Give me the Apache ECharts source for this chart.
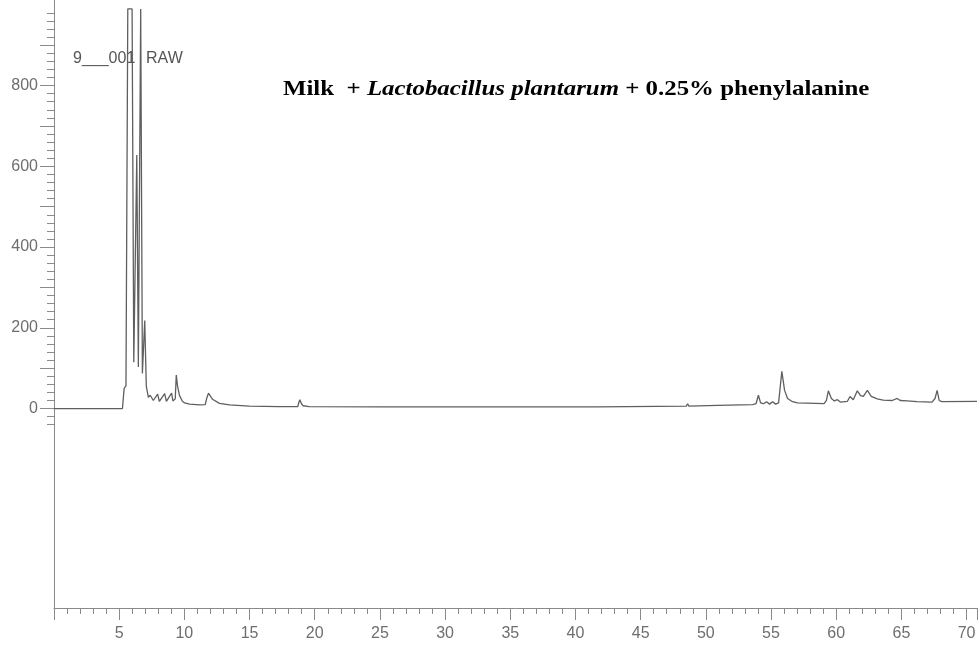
<!DOCTYPE html>
<html>
<head>
<meta charset="utf-8">
<script src="https://cdn.jsdelivr.net/npm/echarts@6/dist/echarts.min.js"></script>
<style>
  html, body { margin: 0; padding: 0; background: #fff; }
  #chart { width: 980px; height: 645px; }
</style>
</head>
<body>
<div id="chart"></div>
<script>
// Retention time (min) and detector response of the chromatogram trace
const retentionTime = [
  0, 5.25, 5.33, 5.38, 5.44, 5.52, 5.60, 5.66, 5.99, 6.12, 6.35, 6.47, 6.65, 6.78,
  6.96, 7.08, 7.24, 7.38, 7.49, 7.62, 7.76, 7.95, 8.08, 8.22, 8.49, 8.62, 8.76, 9.02,
  9.12, 9.30, 9.38, 9.48, 9.63, 9.85, 10.02, 10.40, 11.16, 11.60, 11.72, 11.85, 12.00,
  12.16, 12.69, 13.46, 14.98, 17.28, 18.70, 18.78, 18.86, 18.98, 19.11, 19.57, 25, 35,
  41.5, 41.6, 41.7, 48.5, 48.6, 48.7, 50.9, 53.6, 53.85, 54.03, 54.2, 54.43, 54.66,
  54.89, 55.12, 55.35, 55.58, 55.83, 56.04, 56.27, 56.65, 57.03, 59.07, 59.25, 59.40,
  59.63, 59.86, 60.09, 60.32, 60.86, 61.06, 61.31, 61.62, 61.87, 62.08, 62.39, 62.69,
  63.15, 63.61, 64.30, 64.68, 64.91, 65.44, 66.20, 67.35, 67.58, 67.74, 67.90, 68.10, 70.8
];
const intensity = [
  0, 0, 2, 50, 54, 56, 60, 990, 990, 115, 628, 103, 990, 87,
  218, 55, 28, 33, 34, 20, 18, 36, 18, 17, 37, 18, 17, 38,
  19, 24, 83, 55, 32, 18, 14, 11, 9, 10, 26, 38, 31,
  23, 13, 9, 6, 5, 5, 15, 22, 12, 7, 5, 4, 4,
  4, 8, 4, 6, 12, 6, 8, 10, 12, 33, 14, 12, 17,
  11, 17, 11, 14, 92, 45, 25, 17, 14, 12, 20, 44,
  25, 19, 22, 16, 18, 30, 22, 44, 32, 30, 45, 30,
  24, 21, 20, 25, 20, 19, 17, 16, 25, 45, 20, 17, 18
];

// Axis tick labels
const timeTickLabels = [5, 10, 15, 20, 25, 30, 35, 40, 45, 50, 55, 60, 65, 70];
const responseTickLabels = [0, 200, 400, 600, 800];

// Visible value ranges
const X_MIN = 0, X_MAX = 70.8;
const Y_MIN = -494, Y_MAX = 1012;
const RULER_MIN = -40, RULER_MAX = 980;   // extent of the fine tick ruler on the y axis
const MAJOR_MIN = 0, MAJOR_MAX = 900;     // extent of the long ticks and labels

// Layout
const PLOT_LEFT = 54, PLOT_TOP = 0, PLOT_HEIGHT = 608;
const pxPerUnit = PLOT_HEIGHT / (Y_MAX - Y_MIN);
const topOf = v => PLOT_TOP + (Y_MAX - v) * pxPerUnit;

const AXIS_COLOR = '#8a8a8a';
const LABEL_COLOR = '#6e6e6e';
const TRACE_COLOR = '#5f5f5f';

const chart = echarts.init(document.getElementById('chart'), null, { renderer: 'canvas' });

const hiddenX = idx => ({
  type: 'value', gridIndex: idx, min: X_MIN, max: X_MAX, show: false
});

chart.setOption({
  animation: false,
  backgroundColor: '#ffffff',
  grid: [
    { left: PLOT_LEFT, right: 0, top: PLOT_TOP, height: PLOT_HEIGHT },
    { left: PLOT_LEFT, right: 0, top: topOf(RULER_MAX), height: (RULER_MAX - RULER_MIN) * pxPerUnit },
    { left: PLOT_LEFT, right: 0, top: topOf(MAJOR_MAX), height: (MAJOR_MAX - MAJOR_MIN) * pxPerUnit }
  ],
  xAxis: [
    {
      type: 'value', gridIndex: 0, min: X_MIN, max: X_MAX, interval: 5,
      axisLine: { show: true, onZero: false, lineStyle: { color: AXIS_COLOR, width: 1 } },
      axisTick: { show: true, inside: false, length: 12, lineStyle: { color: AXIS_COLOR, width: 1 } },
      minorTick: { show: true, splitNumber: 5, length: 6, lineStyle: { color: AXIS_COLOR, width: 1 } },
      splitLine: { show: false },
      axisLabel: {
        show: true, margin: 18, color: LABEL_COLOR, fontFamily: 'Liberation Sans, Arial, sans-serif',
        fontSize: 16, showMinLabel: true, showMaxLabel: true,
        formatter: v => timeTickLabels.includes(v) ? String(v) : ''
      }
    },
    hiddenX(1),
    hiddenX(2)
  ],
  yAxis: [
    {
      type: 'value', gridIndex: 0, min: Y_MIN, max: Y_MAX,
      axisLine: { show: true, onZero: false, lineStyle: { color: AXIS_COLOR, width: 1 } },
      axisTick: { show: false }, axisLabel: { show: false }, splitLine: { show: false }
    },
    {
      type: 'value', gridIndex: 1, min: RULER_MIN, max: RULER_MAX, interval: 20,
      axisLine: { show: false },
      axisTick: { show: true, inside: false, length: 7, lineStyle: { color: AXIS_COLOR, width: 1 } },
      axisLabel: { show: false }, splitLine: { show: false }
    },
    {
      type: 'value', gridIndex: 2, min: MAJOR_MIN, max: MAJOR_MAX, interval: 100,
      axisLine: { show: false },
      axisTick: { show: true, inside: false, length: 14, lineStyle: { color: AXIS_COLOR, width: 1 } },
      axisLabel: {
        show: true, margin: 16, color: LABEL_COLOR, fontFamily: 'Liberation Sans, Arial, sans-serif',
        fontSize: 16,
        formatter: v => responseTickLabels.includes(v) ? String(v) : ''
      },
      splitLine: { show: false }
    }
  ],
  series: [
    {
      type: 'line', xAxisIndex: 0, yAxisIndex: 0,
      data: retentionTime.map((t, i) => [t, intensity[i]]),
      showSymbol: false, symbol: 'none', clip: true,
      lineStyle: { color: TRACE_COLOR, width: 1.3 }
    }
  ],
  graphic: [
    {
      type: 'text', left: 73, top: 51,
      style: { text: '9___001', fill: '#555', font: '16px "Liberation Sans", Arial, sans-serif' }
    },
    {
      type: 'text', left: 146, top: 51,
      style: { text: 'RAW', fill: '#555', font: '16px "Liberation Sans", Arial, sans-serif' }
    },
    {
      type: 'text', left: 283, top: 78, scaleX: 1.13,
      style: {
        text: '{b|Milk  + }{bi|Lactobacillus plantarum}{b| + 0.25% phenylalanine}',
        rich: {
          b: { fontFamily: 'Liberation Serif', fontWeight: 'bold', fontSize: 22, fill: '#000' },
          bi: { fontFamily: 'Liberation Serif', fontWeight: 'bold', fontStyle: 'italic', fontSize: 22, fill: '#000' }
        }
      }
    }
  ]
});
</script>
</body>
</html>
